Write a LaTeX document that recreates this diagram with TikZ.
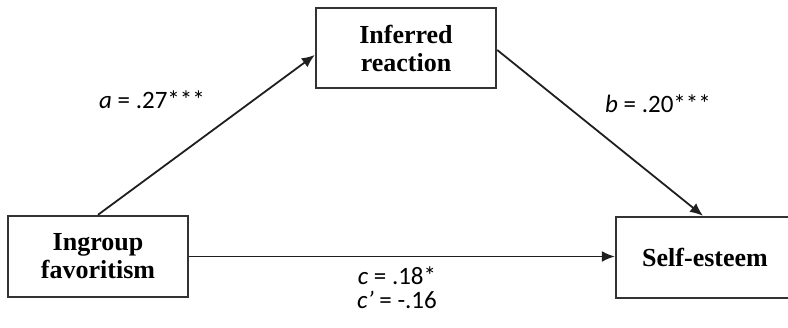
\documentclass[tikz,border=0pt]{standalone}
\usepackage{fontspec}
\setmainfont{Liberation Serif}
\newfontfamily\labfont{Carlito}
\usetikzlibrary{arrows.meta,calc}
\begin{document}
\begin{tikzpicture}[x=1pt,y=1pt,
  varbox/.style={draw=black!80, line width=2.4pt, minimum width=180pt, minimum height=81pt,
    align=center, font=\fontsize{26}{28}\selectfont\bfseries, inner sep=0pt},
  path/.style={draw=black!88, line width=1.8pt, -{Latex[length=13pt,width=11pt]}},
  coef/.style={font=\fontsize{25}{24}\selectfont\labfont, inner sep=0pt}]
\useasboundingbox (0,0) rectangle (788,327);
\clip (0,0) rectangle (788,327);
\node[varbox] (ing) at (98,70.5) {Ingroup\\favoritism};
\node[varbox, minimum height=80pt] (inf) at (406,279) {Inferred\\reaction};
\node[varbox, minimum width=178pt] (se) at (705,69.5) {Self-esteem};
\draw[path] (ing.north) -- ([yshift=-7pt]inf.west);
\draw[path] ([yshift=-2pt]inf.east) -- ([xshift=-2pt]se.north);
\draw[path] (ing.east) -- (ing.east -| se.west);
\node[coef] (la) at (152,227) {\textit{a} = .27***};
\node[coef] (lb) at (658,223) {\textit{b} = .20***};
\node[coef, align=center] (lc) at (397,39) {\textit{c} = .18*\\\textit{c’} = -.16};
\end{tikzpicture}
\end{document}
